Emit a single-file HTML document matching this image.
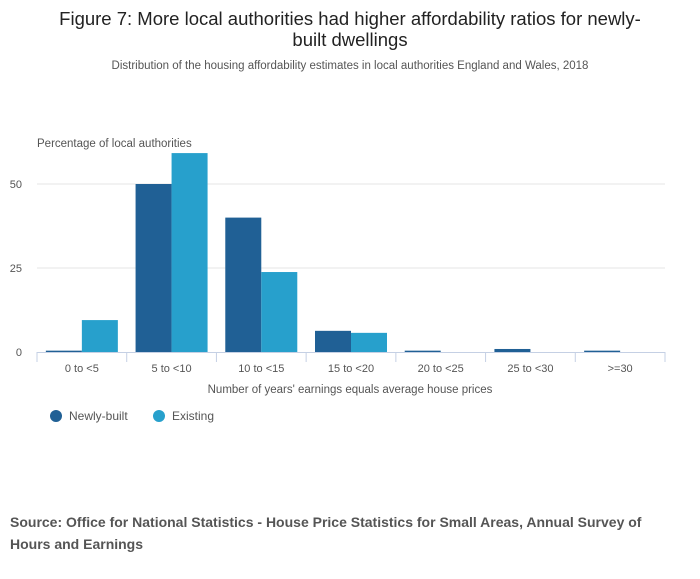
<!DOCTYPE html>
<html><head><meta charset="utf-8"><style>
body{margin:0;background:#fff;font-family:"Liberation Sans",sans-serif;}
#wrap{position:relative;width:700px;height:574px;}
</style></head><body>
<div id="wrap">
<svg id="svg" width="700" height="574" xmlns="http://www.w3.org/2000/svg">
<text x="350" y="25" text-anchor="middle" font-size="18.5" fill="#222">Figure 7: More local authorities had higher affordability ratios for newly-</text>
<text x="350" y="46" text-anchor="middle" font-size="18.5" fill="#222">built dwellings</text>
<text x="350" y="69" text-anchor="middle" font-size="11.5" fill="#555">Distribution of the housing affordability estimates in local authorities England and Wales, 2018</text>
<text x="37" y="147" font-size="11.5" fill="#555">Percentage of local authorities</text>
<g id="grid"></g><g id="bars"></g><g id="xaxis"></g>
<text x="350" y="393" text-anchor="middle" font-size="11.5" fill="#555">Number of years' earnings equals average house prices</text>
<g><circle cx="56" cy="416" r="6" fill="#206095"/><text x="69" y="420" font-size="12" fill="#555">Newly-built</text></g>
<g><circle cx="159" cy="416" r="6" fill="#27a0cc"/><text x="172" y="420" font-size="12" fill="#555">Existing</text></g>
<text x="10" y="527" font-size="14" font-weight="bold" fill="#555">Source: Office for National Statistics - House Price Statistics for Small Areas, Annual Survey of</text>
<text x="10" y="549" font-size="14" font-weight="bold" fill="#555">Hours and Earnings</text>
</svg></div>
<script>
const categories=["0 to <5","5 to <10","10 to <15","15 to <20","20 to <25","25 to <30",">=30"];
const newlyBuilt=[0.4,50,40,6.3,0.4,0.9,0.4];
const existing=[9.5,59.2,23.8,5.7,0,0,0];
const yTicks=[0,25,50];
const NS="http://www.w3.org/2000/svg";
const x0=37,x1=665,yBase=352,pxPerUnit=3.36;
const band=(x1-x0)/categories.length;
function y(v){return yBase-v*pxPerUnit;}
function bx(i){return x0+i*band;}
function mk(t,a,p){const e=document.createElementNS(NS,t);for(const k in a)e.setAttribute(k,a[k]);p.appendChild(e);return e;}
const grid=document.getElementById('grid'),bars=document.getElementById('bars'),xa=document.getElementById('xaxis');
yTicks.forEach(v=>{
  if(v>0){const l=mk('line',{x1:x0,x2:x1,y1:y(v),y2:y(v),stroke:'#e6e6e6'},grid);
  
  }
  const t=mk('text',{x:22,y:y(v)+4,'text-anchor':'end','font-size':11,fill:'#555'},grid);t.textContent=v;
  
  
});
const bw=36,pad=(band-2*bw)/2;
categories.forEach((c,i)=>{
  const r1=mk('rect',{x:bx(i)+pad,y:y(newlyBuilt[i]),width:bw,height:newlyBuilt[i]*pxPerUnit,fill:'#206095'},bars);
  
  
  const r2=mk('rect',{x:bx(i)+pad+bw,y:y(existing[i]),width:bw,height:existing[i]*pxPerUnit,fill:'#27a0cc'},bars);
  
  
  const t=mk('text',{x:bx(i)+band/2,y:372,'text-anchor':'middle','font-size':11,fill:'#555'},xa);t.textContent=c;
  
  
});
const ax=mk('line',{x1:x0,x2:x1,y1:yBase+0.5,y2:yBase+0.5,stroke:'#c5d0e4'},xa);


for(let i=0;i<=categories.length;i++){const tk=mk('line',{x1:bx(i),x2:bx(i),y1:yBase,y2:yBase+10,stroke:'#c5d0e4'},xa);
  
  }
</script>
</body></html>
